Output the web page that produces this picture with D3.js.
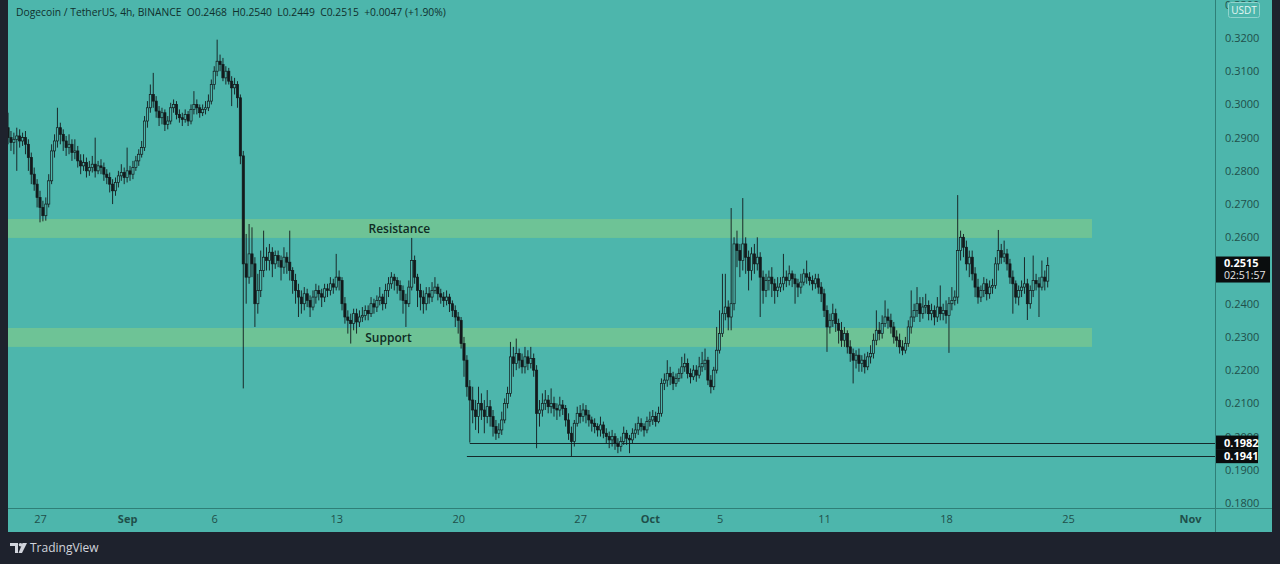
<!DOCTYPE html>
<html>
<head>
<meta charset="utf-8">
<script src="https://cdn.jsdelivr.net/npm/d3@7"></script>
<style>
  html, body { margin: 0; padding: 0; background: #1e222d; }
  svg { display: block; font-family: "Open Sans", "Noto Sans", sans-serif; }
</style>
</head>
<body>
<div id="chart"></div>
<script>
// Frame and plot boxes
const FRAME_WIDTH = 1280;
const FRAME_HEIGHT = 564;
const PLOT = {left: 8, right: 1215, top: 0, bottom: 508};
const AXIS_RIGHT = 1272;
const AXIS_BOTTOM = 532;

// 4h candles, first one opens 2021-08-25 04:00 UTC, values in 0.0001 USDT
const FIRST_OPEN = 2930;
const CLOSES = [
  2900, 2885, 2895, 2905, 2890, 2900,
  2880, 2840, 2790, 2760, 2720, 2690,
  2665, 2700, 2770, 2860, 2890, 2930,
  2910, 2890, 2870, 2880, 2855, 2860,
  2830, 2815, 2825, 2800, 2810, 2820,
  2800, 2815, 2810, 2790, 2780, 2760,
  2740, 2765, 2785, 2795, 2780, 2800,
  2790, 2810, 2830, 2850, 2870, 2950,
  2990, 3030, 3010, 2980, 2960, 2975,
  2940, 2950, 2990, 3000, 2970, 2960,
  2955, 2970, 2950, 2985, 3000, 2990,
  2975, 2985, 2990, 3010, 3060, 3100,
  3130, 3120, 3080, 3100, 3070, 3050,
  3060, 3020, 2845, 2520, 2480, 2550,
  2520, 2400, 2440, 2500, 2540, 2530,
  2555, 2520, 2545, 2530, 2510, 2540,
  2525, 2500, 2470, 2440, 2420, 2400,
  2430, 2410, 2390, 2420, 2440, 2430,
  2420, 2445, 2440, 2460, 2450, 2480,
  2470, 2400, 2360, 2350, 2340, 2370,
  2345, 2360, 2365, 2380, 2370, 2400,
  2390, 2410, 2420, 2400, 2440, 2460,
  2480, 2470, 2455, 2440, 2410, 2400,
  2450, 2530, 2480, 2440, 2420, 2400,
  2430, 2420, 2440, 2450, 2430, 2420,
  2410, 2420, 2400, 2380, 2360, 2350,
  2280, 2230, 2150, 2110, 2080, 2060,
  2100, 2080, 2060, 2090, 2060, 2030,
  2010, 2020, 2050, 2100, 2130, 2240,
  2220, 2250, 2230, 2210, 2240, 2220,
  2235, 2200, 2070, 2080, 2100, 2110,
  2090, 2100, 2085, 2080, 2095, 2085,
  2050, 2010, 1985, 2040, 2070, 2060,
  2080, 2065, 2050, 2040, 2030, 2020,
  2035, 2010, 2000, 1990, 2000, 1980,
  1970, 1985, 2010, 1995, 1990, 2010,
  2020, 2040, 2030, 2020, 2045, 2050,
  2060, 2045, 2070, 2160, 2170, 2190,
  2180, 2160, 2175, 2190, 2210, 2220,
  2190, 2180, 2200, 2185, 2210, 2220,
  2230, 2170, 2150, 2200, 2260, 2310,
  2370, 2390, 2360, 2400, 2580, 2560,
  2530, 2580, 2540, 2500, 2550, 2520,
  2540, 2480, 2440, 2470, 2480, 2460,
  2440, 2450, 2460, 2480, 2470, 2490,
  2475, 2460, 2450, 2465, 2490, 2480,
  2470, 2460, 2475, 2450, 2430, 2380,
  2330, 2350, 2370, 2340, 2320, 2290,
  2310, 2270, 2250, 2230, 2245, 2220,
  2230, 2210, 2240, 2250, 2290, 2320,
  2310, 2340, 2360, 2350, 2330, 2300,
  2290, 2270, 2260, 2280, 2330, 2360,
  2380, 2400, 2370, 2390, 2395, 2370,
  2380, 2360, 2390, 2370, 2380, 2365,
  2400, 2410, 2420, 2560, 2600, 2570,
  2520, 2540, 2490, 2450, 2420, 2440,
  2460, 2430, 2450, 2455, 2520, 2560,
  2540, 2550, 2520, 2480, 2460, 2420,
  2440, 2450, 2460, 2400, 2440, 2470,
  2460, 2450, 2480, 2468, 2515
];
const HIGHS = [
  2975, 2920, 2915, 2930, 2925, 2915,
  2920, 2895, 2855, 2810, 2775, 2740,
  2710, 2720, 2790, 2880, 2910, 2990,
  2945, 2925, 2905, 2910, 2895, 2895,
  2875, 2850, 2850, 2840, 2830, 2845,
  2900, 2830, 2835, 2825, 2805, 2795,
  2775, 2780, 2800, 2820, 2810, 2870,
  2815, 2830, 2845, 2865, 2890, 2965,
  3010, 3060, 3095, 3025, 2995, 2990,
  2985, 2965, 3005, 3015, 3010, 2985,
  2975, 2985, 2980, 3000, 3040, 3015,
  3000, 3000, 3010, 3030, 3075, 3115,
  3195, 3150, 3140, 3115, 3110, 3085,
  3080, 3070, 3030, 2860, 2610, 2640,
  2630, 2540, 2490, 2560, 2620, 2570,
  2580, 2570, 2560, 2560, 2545, 2570,
  2555, 2620, 2510, 2490, 2460, 2440,
  2450, 2445, 2425, 2440, 2460, 2455,
  2445, 2460, 2460, 2480, 2475, 2550,
  2500, 2480, 2420, 2380, 2370, 2385,
  2385, 2380, 2390, 2395, 2395, 2420,
  2415, 2425, 2450, 2430, 2460, 2480,
  2495, 2490, 2480, 2470, 2455, 2430,
  2470, 2598, 2545, 2490, 2460, 2440,
  2450, 2450, 2465, 2480, 2460, 2445,
  2435, 2440, 2430, 2410, 2395, 2375,
  2360, 2300, 2245, 2170, 2150, 2110,
  2150, 2130, 2110, 2140, 2110, 2080,
  2050, 2040, 2075, 2115, 2150, 2285,
  2270, 2295, 2265, 2250, 2270, 2260,
  2270, 2250, 2215, 2110, 2130, 2140,
  2125, 2145, 2120, 2100, 2120, 2110,
  2095, 2070, 2030, 2050, 2090, 2095,
  2100, 2095, 2080, 2060, 2055, 2040,
  2060, 2045, 2025, 2015, 2020, 2010,
  1995, 2000, 2030, 2020, 2005, 2025,
  2040, 2060, 2055, 2040, 2060, 2075,
  2080, 2075, 2090, 2175, 2190, 2230,
  2210, 2195, 2190, 2205, 2240, 2250,
  2235, 2205, 2215, 2215, 2240, 2255,
  2265, 2240, 2185, 2210, 2330, 2380,
  2490, 2490, 2410, 2688, 2600, 2620,
  2580, 2718, 2600, 2560, 2570, 2580,
  2600, 2555, 2500, 2490, 2500, 2510,
  2475, 2480, 2480, 2550, 2500, 2515,
  2500, 2490, 2475, 2490, 2505, 2530,
  2495, 2485, 2490, 2490, 2465, 2445,
  2395, 2370, 2400, 2385, 2355, 2345,
  2330, 2320, 2290, 2265, 2260, 2265,
  2245, 2250, 2255, 2275, 2310, 2380,
  2345, 2365, 2410, 2385, 2370, 2345,
  2320, 2310, 2290, 2300, 2350, 2440,
  2400, 2450, 2420, 2420, 2430, 2410,
  2400, 2395, 2420, 2455, 2400, 2410,
  2420, 2450, 2440, 2727, 2620, 2610,
  2590, 2560, 2560, 2510, 2475, 2455,
  2480, 2475, 2470, 2475, 2540, 2622,
  2580, 2590, 2565, 2535, 2500, 2470,
  2455, 2470, 2540, 2475, 2455, 2545,
  2490, 2480, 2530, 2500, 2540
];
const LOWS = [
  2880, 2860, 2850, 2800, 2870, 2875,
  2850, 2800, 2760, 2740, 2690, 2645,
  2648, 2650, 2690, 2760, 2840, 2870,
  2880, 2860, 2845, 2850, 2830, 2835,
  2810, 2790, 2800, 2780, 2785, 2795,
  2780, 2790, 2790, 2770, 2760, 2735,
  2700, 2725, 2750, 2770, 2760, 2765,
  2770, 2775, 2800, 2815, 2840, 2860,
  2930, 2975, 2990, 2960, 2935, 2940,
  2920, 2925, 2940, 2975, 2955, 2945,
  2935, 2945, 2935, 2940, 2970, 2970,
  2960, 2965, 2970, 2980, 3000, 3045,
  3085, 3100, 3070, 3060, 3060, 2995,
  3030, 2990, 2820, 2145, 2400, 2460,
  2480, 2330, 2370, 2420, 2480, 2500,
  2500, 2480, 2505, 2510, 2470, 2490,
  2490, 2470, 2430, 2400, 2360, 2370,
  2380, 2390, 2360, 2380, 2400, 2410,
  2390, 2405, 2420, 2425, 2430, 2440,
  2440, 2380, 2340, 2310, 2280, 2320,
  2310, 2330, 2345, 2350, 2350, 2360,
  2370, 2375, 2395, 2380, 2385, 2420,
  2445, 2440, 2430, 2410, 2370, 2330,
  2390, 2440, 2460, 2390, 2380, 2370,
  2380, 2400, 2405, 2430, 2410, 2400,
  2390, 2395, 2375, 2360, 2330, 2310,
  2265, 2180, 2120, 1982, 2040, 2020,
  2010, 2050, 2010, 2040, 2030, 2000,
  1990, 1995, 2005, 2040, 2085, 2120,
  2180, 2200, 2205, 2190, 2190, 2200,
  2205, 2180, 1965, 2030, 2060, 2080,
  2070, 2070, 2060, 2050, 2060, 2065,
  2030, 1990, 1941, 1970, 2030, 2040,
  2045, 2040, 2030, 2015, 2010, 2000,
  2000, 1995, 1980, 1965, 1970, 1960,
  1950, 1955, 1975, 1975, 1950, 1980,
  1995, 2005, 2015, 2000, 2010, 2030,
  2035, 2030, 2040, 2060, 2140, 2150,
  2155, 2140, 2150, 2165, 2175, 2195,
  2175, 2160, 2170, 2165, 2175, 2195,
  2200, 2155, 2130, 2140, 2190, 2250,
  2300, 2350, 2320, 2320, 2380, 2510,
  2480, 2500, 2490, 2440, 2470, 2490,
  2500, 2360, 2400, 2420, 2440, 2420,
  2400, 2420, 2435, 2440, 2450, 2455,
  2450, 2400, 2420, 2430, 2455, 2460,
  2455, 2440, 2445, 2430, 2405, 2360,
  2255, 2310, 2330, 2315, 2280, 2270,
  2270, 2250, 2225, 2160, 2205, 2195,
  2195, 2190, 2200, 2220, 2235, 2275,
  2290, 2295, 2330, 2325, 2310, 2280,
  2270, 2250, 2245, 2250, 2270, 2310,
  2345, 2360, 2345, 2355, 2370, 2350,
  2350, 2335, 2345, 2350, 2350, 2340,
  2252, 2380, 2395, 2400, 2530, 2540,
  2500, 2480, 2470, 2420, 2400, 2405,
  2420, 2410, 2415, 2430, 2445, 2500,
  2520, 2525, 2500, 2460, 2370, 2400,
  2395, 2420, 2430, 2351, 2385, 2420,
  2440, 2360, 2440, 2440, 2449
];

// Zones and marked levels
const ZONES = [
  {label: "Resistance", top: 0.2655, bottom: 0.2598, labelAt: "2021-09-16T15:00Z"},
  {label: "Support", top: 0.2327, bottom: 0.2270, labelAt: "2021-09-16T00:00Z"}
];
const ZONE_END = "2021-10-26T09:00Z";
const LEVELS = [
  {value: 0.1982, from: "2021-09-20T16:00Z"},
  {value: 0.1941, from: "2021-09-20T12:00Z"}
];

// Axis ticks (0.2500 sits under the last-price box, so it is not listed)
const PRICE_TICKS = [0.18, 0.19, 0.20, 0.21, 0.22, 0.23, 0.24,
                     0.26, 0.27, 0.28, 0.29, 0.30, 0.31, 0.32, 0.33];
const DATE_TICKS = ["2021-08-27", "2021-09-01", "2021-09-06", "2021-09-13",
                    "2021-09-20", "2021-09-27", "2021-10-01", "2021-10-05",
                    "2021-10-11", "2021-10-18", "2021-10-25", "2021-11-01"];

const HEADER = "Dogecoin / TetherUS, 4h, BINANCE  O0.2468  H0.2540  L0.2449  C0.2515  +0.0047 (+1.90%)";
const COUNTDOWN = "02:51:57";

// colours
const BG = "#4db6ac";
const ZONE_FILL = "#6ec396";
const INK = "#131a1c";
const AXIS_TEXT = "#1f4f4a";

const FIRST_TIME = Date.UTC(2021, 7, 25, 4);
const STEP = 4 * 3600 * 1000;

const candles = CLOSES.map((c, i) => ({
  date: new Date(FIRST_TIME + i * STEP),
  open: (i === 0 ? FIRST_OPEN : CLOSES[i - 1]) / 10000,
  close: c / 10000,
  high: HIGHS[i] / 10000,
  low: LOWS[i] / 10000
}));

const X_SCALE = d3.scaleUtc()
                  .domain([new Date("2021-08-27T00:00Z"), new Date("2021-11-01T00:00Z")])
                  .range([40, 1190]);
const Y_SCALE = d3.scaleLinear()
                  .domain([0.18, 0.32])
                  .range([503, 38]);

const svg = d3.select("#chart")
              .append("svg")
                .attr("width", FRAME_WIDTH)
                .attr("height", FRAME_HEIGHT);

// backgrounds
svg.append("rect")
    .attr("x", 0).attr("y", 0)
    .attr("width", FRAME_WIDTH).attr("height", FRAME_HEIGHT)
    .attr("fill", "#1e222d");
svg.append("rect")
    .attr("x", PLOT.left).attr("y", 0)
    .attr("width", AXIS_RIGHT - PLOT.left).attr("height", AXIS_BOTTOM)
    .attr("fill", BG);

svg.append("defs").append("clipPath").attr("id", "plot-clip")
  .append("rect")
    .attr("x", PLOT.left).attr("y", PLOT.top)
    .attr("width", PLOT.right - PLOT.left).attr("height", PLOT.bottom - PLOT.top);

const plot = svg.append("g").attr("clip-path", "url(#plot-clip)");

// zones
plot.selectAll(".zone")
  .data(ZONES)
  .enter()
  .append("rect")
    .attr("class", "zone")
    .attr("x", PLOT.left)
    .attr("y", (d) => Y_SCALE(d.top))
    .attr("width", X_SCALE(new Date(ZONE_END)) - PLOT.left)
    .attr("height", (d) => Y_SCALE(d.bottom) - Y_SCALE(d.top))
    .attr("fill", ZONE_FILL);

plot.selectAll(".zone-label")
  .data(ZONES)
  .enter()
  .append("text")
    .attr("x", (d) => X_SCALE(new Date(d.labelAt)))
    .attr("y", (d) => (Y_SCALE(d.top) + Y_SCALE(d.bottom)) / 2)
    .attr("dy", "0.35em")
    .attr("text-anchor", "middle")
    .attr("font-size", "12px")
    .attr("font-weight", 600)
    .attr("fill", "#0e2b24")
    .text((d) => d.label);

// marked levels
plot.selectAll(".level")
  .data(LEVELS)
  .enter()
  .append("line")
    .attr("x1", (d) => X_SCALE(new Date(d.from)))
    .attr("x2", PLOT.right)
    .attr("y1", (d) => Math.round(Y_SCALE(d.value)) + 0.5)
    .attr("y2", (d) => Math.round(Y_SCALE(d.value)) + 0.5)
    .attr("stroke", "#15292a")
    .attr("stroke-width", 1);

// candles
const BODY_W = 2.2;
const g = plot.selectAll(".candle")
  .data(candles)
  .enter()
  .append("g")
    .attr("class", "candle");

g.append("line")
    .attr("x1", (d) => X_SCALE(d.date))
    .attr("x2", (d) => X_SCALE(d.date))
    .attr("y1", (d) => Y_SCALE(d.high))
    .attr("y2", (d) => Y_SCALE(d.low))
    .attr("stroke", INK)
    .attr("stroke-width", 0.9);

g.append("rect")
    .attr("x", (d) => X_SCALE(d.date) - BODY_W / 2)
    .attr("y", (d) => Y_SCALE(Math.max(d.open, d.close)))
    .attr("width", BODY_W)
    .attr("height", (d) => Math.max(0.8, Math.abs(Y_SCALE(d.open) - Y_SCALE(d.close))))
    .attr("fill", (d) => d.close >= d.open ? BG : INK)
    .attr("stroke", INK)
    .attr("stroke-width", 0.7);

// separators
svg.append("line")
    .attr("x1", PLOT.left).attr("x2", AXIS_RIGHT)
    .attr("y1", PLOT.bottom + 0.5).attr("y2", PLOT.bottom + 0.5)
    .attr("stroke", "#2f7f77");
svg.append("line")
    .attr("x1", PLOT.right + 0.5).attr("x2", PLOT.right + 0.5)
    .attr("y1", 0).attr("y2", AXIS_BOTTOM)
    .attr("stroke", "#2f7f77");

// price axis
const yAxis = svg.append("g")
    .attr("transform", "translate(" + (PLOT.right + 7) + ",0)")
    .call(d3.axisRight(Y_SCALE).tickValues(PRICE_TICKS).tickFormat(d3.format(".4f")).tickSize(0));
yAxis.select(".domain").remove();
yAxis.selectAll("text")
    .attr("font-family", "'Open Sans', sans-serif")
    .attr("font-size", "11px")
    .attr("fill", AXIS_TEXT);

// time axis
const xAxis = svg.append("g")
    .attr("transform", "translate(0," + PLOT.bottom + ")")
    .call(d3.axisBottom(X_SCALE)
            .tickValues(DATE_TICKS.map((s) => new Date(s + "T00:00Z")))
            .tickFormat((d) => d.getUTCDate() === 1 ? d3.utcFormat("%b")(d) : d3.utcFormat("%-d")(d))
            .tickSize(0)
            .tickPadding(7));
xAxis.select(".domain").remove();
xAxis.selectAll("text")
    .attr("font-family", "'Open Sans', sans-serif")
    .attr("font-size", "11px")
    .attr("fill", AXIS_TEXT)
    .attr("font-weight", (d) => d.getUTCDate() === 1 ? 700 : 400);

// USDT badge
svg.append("rect")
    .attr("x", 1228.5).attr("y", 2.5)
    .attr("width", 31).attr("height", 15).attr("rx", 2)
    .attr("fill", BG)
    .attr("stroke", "#8fd3cc");
svg.append("text")
    .attr("x", 1244).attr("y", 13.5)
    .attr("text-anchor", "middle")
    .attr("font-size", "10px")
    .attr("fill", "#e8f6f4")
    .text("USDT");

// price boxes
const last = candles[candles.length - 1];
const lastY = Y_SCALE(last.close);
svg.append("rect")
    .attr("x", PLOT.right + 1).attr("y", lastY - 9)
    .attr("width", 54).attr("height", 26)
    .attr("fill", "#0a0d0e");
svg.append("text")
    .attr("x", PLOT.right + 9).attr("y", lastY + 1.5)
    .attr("font-size", "11px").attr("font-weight", 700)
    .attr("fill", "#ffffff")
    .text(d3.format(".4f")(last.close));
svg.append("text")
    .attr("x", PLOT.right + 9).attr("y", lastY + 13.5)
    .attr("font-size", "10.5px")
    .attr("fill", "#e6e6e6")
    .text(COUNTDOWN);

svg.selectAll(".level-box")
  .data(LEVELS)
  .enter()
  .append("rect")
    .attr("x", PLOT.right + 1)
    .attr("y", (d) => Y_SCALE(d.value) - 7)
    .attr("width", 42).attr("height", 14)
    .attr("fill", "#0a0d0e");
svg.selectAll(".level-text")
  .data(LEVELS)
  .enter()
  .append("text")
    .attr("x", PLOT.right + 9)
    .attr("y", (d) => Y_SCALE(d.value))
    .attr("dy", "0.36em")
    .attr("font-size", "11px").attr("font-weight", 700)
    .attr("fill", "#ffffff")
    .text((d) => d3.format(".4f")(d.value));

// header
svg.append("text")
    .attr("x", 16).attr("y", 16)
    .attr("font-size", "10.3px")
    .attr("fill", "#10302c")
    .attr("xml:space", "preserve")
    .style("white-space", "pre")
    .text(HEADER);

// TradingView footer
const logo = svg.append("g").attr("transform", "translate(10,543)").attr("fill", "#d1d4dc");
logo.append("path").attr("d", "M0 0 H8 V10 H5 V3 H0 Z");
logo.append("circle").attr("cx", 10.5).attr("cy", 1.8).attr("r", 1.8);
logo.append("path").attr("d", "M12.5 0 H17 L12 10 H8.5 Z");
svg.append("text")
    .attr("x", 30).attr("y", 552)
    .attr("font-size", "12px")
    .attr("fill", "#d1d4dc")
    .text("TradingView");
</script>
</body>
</html>
